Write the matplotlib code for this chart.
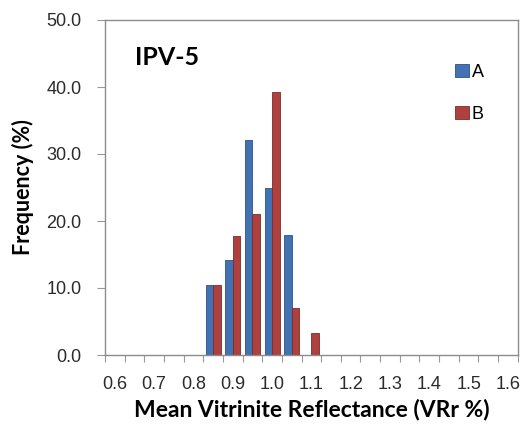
import matplotlib
matplotlib.use("Agg")
import matplotlib.pyplot as plt
from matplotlib.ticker import FixedLocator, FixedFormatter
import numpy as np

# reflectance classes (category axis, one bar pair per class)
categories = ['0.6', '0.65', '0.7', '0.75', '0.8', '0.85', '0.9', '0.95',
              '1.0', '1.05', '1.1', '1.15', '1.2', '1.25', '1.3', '1.35',
              '1.4', '1.45', '1.5', '1.55', '1.6']
freq_a = [0, 0, 0, 0, 0, 10.5, 14.2, 32.1, 25.0, 17.9, 0,
          0, 0, 0, 0, 0, 0, 0, 0, 0, 0]
freq_b = [0, 0, 0, 0, 0, 10.5, 17.7, 21.1, 39.3, 7.0, 3.3,
          0, 0, 0, 0, 0, 0, 0, 0, 0, 0]
y_ticks = [0, 10, 20, 30, 40, 50]

blue = '#4272b2'
red = '#ae403d'
tick_font = 'Liberation Sans'
bold_font = 'Lato'

fig = plt.figure(figsize=(5.22, 4.29), dpi=100)
ax = fig.add_axes([105 / 522, 74 / 429, 412.7 / 522, 335 / 429])

x = np.arange(len(categories))
w = 0.38
ax.bar(x - w / 2, freq_a, width=w, color=blue, edgecolor='#2d5286',
       linewidth=0.6, label='A')
ax.bar(x + w / 2, freq_b, width=w, color=red, edgecolor='#7d2a28',
       linewidth=0.6, label='B')

ax.set_xlim(-0.5, len(categories) - 0.5)
ax.set_ylim(0, 50)

# labels on every other class, tick marks on class boundaries
ax.xaxis.set_major_locator(FixedLocator(x[::2]))
ax.xaxis.set_major_formatter(FixedFormatter(categories[::2]))
ax.xaxis.set_minor_locator(FixedLocator(np.arange(len(categories) + 1) - 0.5))
ax.tick_params(axis='x', which='major', length=0, pad=15, labelsize=13,
               labelcolor='#2b2b2b')
ax.tick_params(axis='x', which='minor', length=5, width=0.8, color='#999999',
               direction='out')
ax.set_yticks(y_ticks)
ax.set_yticklabels(['%.1f' % v for v in y_ticks])
ax.tick_params(axis='y', length=6, width=0.8, color='#999999', pad=11,
               labelsize=13, labelcolor='#2b2b2b')
for lab in ax.get_xticklabels() + ax.get_yticklabels():
    lab.set_fontfamily(tick_font)

for s in ax.spines.values():
    s.set_color('#8c8c8c')
    s.set_linewidth(1.0)

ax.set_xlabel('Mean Vitrinite Reflectance (VRr %)', fontsize=16.5,
              fontweight='bold', family=bold_font, labelpad=4)
ax.set_ylabel('Frequency (%)', fontsize=15.5, fontweight='bold',
              family=bold_font, labelpad=9)
ax.text(0.072, 0.888, 'IPV-5', transform=ax.transAxes, fontsize=18,
        fontweight='bold', family=bold_font, va='center', ha='left')

leg = ax.legend(loc='upper right', bbox_to_anchor=(0.957, 0.918),
                frameon=False, fontsize=13, handlelength=0.75,
                handleheight=0.75, handletextpad=0.15, labelspacing=1.4)
for t in leg.get_texts():
    t.set_fontfamily(tick_font)

fig.savefig('out.png', dpi=100)
